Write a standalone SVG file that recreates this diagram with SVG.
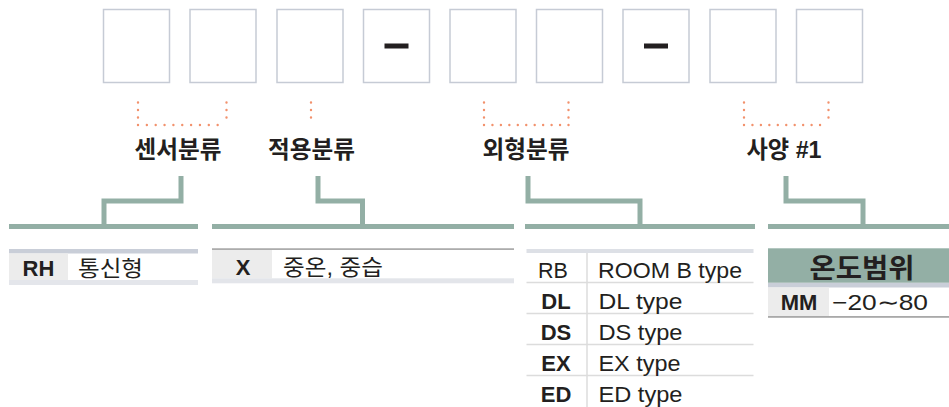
<svg xmlns="http://www.w3.org/2000/svg" width="949" height="407" viewBox="0 0 949 407">
<style>
.box{fill:#fff;stroke:#c6cbd5;stroke-width:1.5}
.dash{fill:#231f20}
.dot{fill:none;stroke:#f2916c;stroke-width:2.4;stroke-linecap:round}
.lbl{font-family:"Liberation Sans","Noto Sans CJK KR",sans-serif;font-weight:bold;font-size:23.5px;fill:#231f20;text-anchor:middle}
.conn{fill:none;stroke:#93afa5;stroke-width:5;stroke-linejoin:miter}
.bar{fill:#93afa5}
.code{font-family:"Liberation Sans","Noto Sans CJK KR",sans-serif;font-weight:bold;font-size:22px;fill:#231f20;text-anchor:middle}
.codeR{font-family:"Liberation Sans","Noto Sans CJK KR",sans-serif;font-size:21.5px;fill:#231f20;text-anchor:middle}
.val{font-family:"Liberation Sans","Noto Sans CJK KR",sans-serif;font-size:21.5px;fill:#231f20}
.cell{fill:#ececec}
.sep{stroke:#dcdcdc;stroke-width:1.5}
</style>
<g id="code-boxes">
<rect class="box" x="103.5" y="9.5" width="66" height="73"/>
<rect class="box" x="190" y="9.5" width="66" height="73"/>
<rect class="box" x="277" y="9.5" width="66" height="73"/>
<rect class="box" x="363.5" y="9.5" width="66" height="73"/>
<rect class="dash" x="384.5" y="43.5" width="24" height="5"/>
<rect class="box" x="450" y="9.5" width="66" height="73"/>
<rect class="box" x="536.5" y="9.5" width="66" height="73"/>
<rect class="box" x="623" y="9.5" width="66" height="73"/>
<rect class="dash" x="644" y="43.5" width="24" height="5"/>
<rect class="box" x="710" y="9.5" width="66" height="73"/>
<rect class="box" x="796.5" y="9.5" width="66" height="73"/>
</g>
<g id="brackets">
<line class="dot" x1="138" y1="102.5" x2="138" y2="125" stroke-dasharray="0 7.5"/>
<line class="dot" x1="226.5" y1="102.5" x2="226.5" y2="125" stroke-dasharray="0 7.5"/>
<line class="dot" x1="138" y1="125" x2="226.5" y2="125" stroke-dasharray="0 8.85"/>
<line class="dot" x1="311" y1="102.5" x2="311" y2="125" stroke-dasharray="0 7.5"/>
<line class="dot" x1="484" y1="102.5" x2="484" y2="125" stroke-dasharray="0 7.5"/>
<line class="dot" x1="568.5" y1="102.5" x2="568.5" y2="125" stroke-dasharray="0 7.5"/>
<line class="dot" x1="484" y1="125" x2="568.5" y2="125" stroke-dasharray="0 8.45"/>
<line class="dot" x1="744" y1="102.5" x2="744" y2="125" stroke-dasharray="0 7.5"/>
<line class="dot" x1="828.5" y1="102.5" x2="828.5" y2="125" stroke-dasharray="0 7.5"/>
<line class="dot" x1="744" y1="125" x2="828.5" y2="125" stroke-dasharray="0 8.45"/>
</g>
<g id="label-sensor"><text class="lbl" x="178" y="158" textLength="87" lengthAdjust="spacingAndGlyphs">센서분류</text></g>
<g id="label-apply"><text class="lbl" x="311.5" y="158" textLength="87" lengthAdjust="spacingAndGlyphs">적용분류</text></g>
<g id="label-shape"><text class="lbl" x="526" y="158" textLength="87" lengthAdjust="spacingAndGlyphs">외형분류</text></g>
<g id="label-spec"><text class="lbl" x="784" y="158" textLength="75" lengthAdjust="spacingAndGlyphs">사양 #1</text></g>
<g id="connectors">
<path class="conn" d="M181,176 V201 H104 V226"/>
<path class="conn" d="M318,176 V201 H362.5 V226"/>
<path class="conn" d="M528,176 V201 H640 V226"/>
<path class="conn" d="M786,176 V201 H863 V226"/>
<rect class="bar" x="9" y="224" width="189" height="5"/>
<rect class="bar" x="212" y="224" width="302" height="5"/>
<rect class="bar" x="525" y="224" width="230" height="5"/>
<rect class="bar" x="768" y="224" width="181" height="5"/>
</g>
<g id="table-sensor">
<rect x="9" y="249" width="189" height="4.5" fill="#c9ced8"/>
<rect class="cell" x="9" y="253.5" width="59" height="26.5"/>
<rect x="9" y="280" width="189" height="5" fill="#e4e6eb"/>
<text class="code" x="38.5" y="276">RH</text>
<text class="val" x="78" y="276" textLength="65" lengthAdjust="spacingAndGlyphs">통신형</text>
</g>
<g id="table-apply">
<rect x="212" y="248.3" width="302" height="1.6" fill="#a3a3a3"/>
<rect class="cell" x="212" y="250" width="60" height="28.3"/>
<rect x="212" y="278.3" width="302" height="5" fill="#e3e5ea"/>
<text class="code" x="243" y="274.5">X</text>
<text class="val" x="283" y="274.5" textLength="100" lengthAdjust="spacingAndGlyphs">중온, 중습</text>
</g>
<g id="table-shape">
<rect x="526.5" y="249" width="227" height="4" fill="#dde0e6"/>
<line class="sep" x1="587" y1="253" x2="587" y2="407"/>
<line class="sep" x1="526.5" y1="282.5" x2="753.5" y2="282.5"/>
<line class="sep" x1="526.5" y1="313.5" x2="753.5" y2="313.5"/>
<line class="sep" x1="526.5" y1="344.5" x2="753.5" y2="344.5"/>
<line class="sep" x1="526.5" y1="375.5" x2="753.5" y2="375.5"/>
<text class="codeR" x="553" y="278">RB</text>
<text class="val" x="598" y="278" textLength="144" lengthAdjust="spacingAndGlyphs">ROOM B type</text>
<text class="code" x="556" y="308.5">DL</text>
<text class="val" x="598.5" y="308.5" textLength="84" lengthAdjust="spacingAndGlyphs">DL type</text>
<text class="code" x="556" y="339.5">DS</text>
<text class="val" x="598.5" y="339.5" textLength="84" lengthAdjust="spacingAndGlyphs">DS type</text>
<text class="code" x="556" y="370.5">EX</text>
<text class="val" x="598.5" y="370.5" textLength="82" lengthAdjust="spacingAndGlyphs">EX type</text>
<text class="code" x="556" y="401.5">ED</text>
<text class="val" x="598.5" y="401.5" textLength="84" lengthAdjust="spacingAndGlyphs">ED type</text>
</g>
<g id="table-spec">
<rect x="768" y="248.3" width="181" height="34.5" fill="#93afa5"/>
<text class="lbl" x="862" y="277.5" style="font-size:27px" textLength="105" lengthAdjust="spacingAndGlyphs">온도범위</text>
<rect x="768" y="282.8" width="181" height="4.7" fill="#c9ced8"/>
<rect class="cell" x="768" y="287.5" width="61" height="28.5"/>
<rect x="768" y="316" width="181" height="1.8" fill="#a9a9a9"/>
<text class="code" x="799" y="310" style="font-size:22px">MM</text>
<text class="val" x="832" y="310" textLength="96" lengthAdjust="spacingAndGlyphs">−20∼80</text>
</g>
</svg>
